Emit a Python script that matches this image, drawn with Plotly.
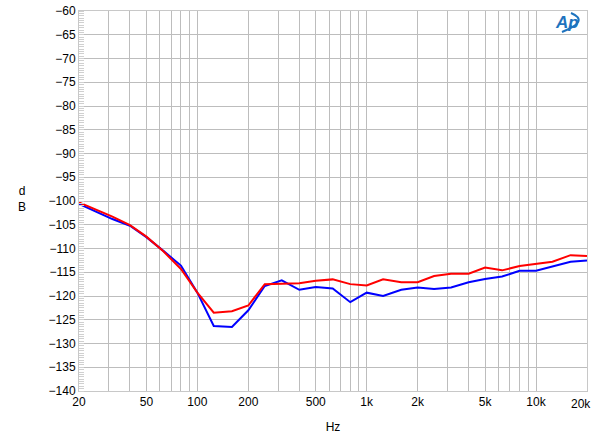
import numpy as np
import plotly.graph_objects as go

freqs = [20, 25, 31.5, 40, 50, 63, 80, 100, 125, 160, 200, 250, 315, 400, 500, 630, 800,
         1000, 1250, 1600, 2000, 2500, 3150, 4000, 5000, 6300, 8000, 10000, 12500, 16000, 20000]
blue_db = [-100.6, -102.1, -103.8, -105.2, -107.6, -110.5, -113.6, -119.3, -126.3, -126.5, -123.0,
           -117.9, -116.7, -118.7, -118.1, -118.4, -121.3, -119.3, -120.0, -118.7, -118.2, -118.5,
           -118.2, -117.1, -116.4, -115.9, -114.7, -114.7, -113.8, -112.8, -112.5]
red_db = [-100.3, -101.7, -103.3, -105.1, -107.5, -110.6, -114.3, -119.3, -123.5, -123.2, -122.0,
          -117.5, -117.4, -117.3, -116.8, -116.5, -117.5, -117.8, -116.5, -117.1, -117.1, -115.8,
          -115.3, -115.3, -114.0, -114.6, -113.7, -113.2, -112.8, -111.4, -111.6]

x_labels = {20: "20", 50: "50", 100: "100", 200: "200", 500: "500", 1000: "1k",
            2000: "2k", 5000: "5k", 10000: "10k"}
last_label = "20k"
y_ticks = list(range(-140, -59, 5))

grid_vals = []
for dec in [10, 100, 1000, 10000]:
    for m in range(1, 10):
        v = m * dec
        if 20 <= v <= 20000:
            grid_vals.append(v)
grid_text = [x_labels.get(v, "") for v in grid_vals]

fig = go.Figure()
fig.add_trace(go.Scatter(x=freqs, y=blue_db, mode="lines",
                         line=dict(color="#0000ff", width=2), showlegend=False,
                         hoverinfo="skip"))
fig.add_trace(go.Scatter(x=freqs, y=red_db, mode="lines",
                         line=dict(color="#ff0000", width=2), showlegend=False,
                         hoverinfo="skip"))

font = dict(family="Liberation Sans, Arial, sans-serif", size=12, color="#000000")

L, R, T, B = 79, 587, 11, 391
fig.update_layout(
    width=600, height=439,
    margin=dict(l=L, r=600 - R, t=T, b=439 - B),
    paper_bgcolor="white", plot_bgcolor="white",
    font=font,
    xaxis=dict(type="log", range=[np.log10(20), np.log10(20000)],
               tickmode="array", tickvals=grid_vals, ticktext=grid_text,
               showgrid=True, gridcolor="#bdbdbd", gridwidth=1,
               showline=True, linecolor="#c8c8c8", mirror=True,
               ticks="", zeroline=False, tickfont=font, automargin=False,
               title=dict(text="Hz", font=font, standoff=14)),
    yaxis=dict(range=[-140, -60], tickmode="array", tickvals=y_ticks,
               showgrid=True, gridcolor="#bdbdbd", gridwidth=1,
               showline=True, linecolor="#c8c8c8", mirror=True,
               ticks="", zeroline=False, tickfont=font, automargin=False,
               minor=dict(dtick=0.5, ticks="inside", ticklen=5,
                          tickcolor="#d0d0d0", showgrid=False)),
)


def px(x, y):
    return (x - L) / (R - L), (B - y) / (B - T)


fig.add_annotation(text=last_label, xref="paper", yref="paper",
                   x=px(581, 0)[0], y=px(0, 404)[1],
                   showarrow=False, font=font, xanchor="center", yanchor="middle")
fig.add_annotation(text="d<br>B", xref="paper", yref="paper",
                   x=px(22, 0)[0], y=px(0, 199)[1],
                   showarrow=False, font=font, align="center",
                   xanchor="center", yanchor="middle")
fig.add_annotation(text="<i><b>Ap</b></i>", xref="paper", yref="paper",
                   x=px(567, 0)[0], y=px(0, 23)[1],
                   showarrow=False, xanchor="center", yanchor="middle",
                   font=dict(family="Liberation Sans, Arial, sans-serif", size=17, color="#1e73be"))
p0 = px(571, 13)
p1 = px(590, 21)
p2 = px(562, 32)
fig.add_shape(type="path", xref="paper", yref="paper",
              path=f"M {p0[0]},{p0[1]} Q {p1[0]},{p1[1]} {p2[0]},{p2[1]}",
              line=dict(color="#1e73be", width=2))

fig.write_html("out.html", config={"displayModeBar": False, "staticPlot": True},
               post_script="document.body.style.margin='0';")
